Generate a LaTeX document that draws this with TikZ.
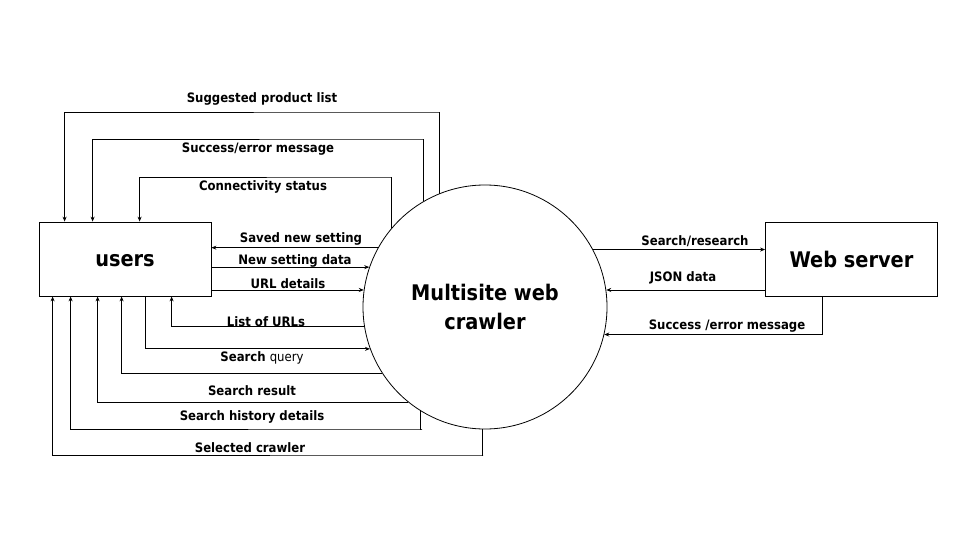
\documentclass[tikz,border=0pt]{standalone}
\usepackage{fontspec}
\setmainfont{DejaVu Sans Condensed}
\usetikzlibrary{arrows.meta}
\begin{document}
\begin{tikzpicture}[x=1pt,y=-1pt,
  >={Stealth[length=5pt,width=4pt]},
  flow/.style={draw=black,line width=0.8pt},
  entity/.style={draw=black,line width=0.8pt,rectangle,minimum width=172pt,minimum height=74pt,inner sep=0pt,font=\fontsize{21.5}{26}\selectfont\bfseries},
  proc/.style={draw=black,line width=0.8pt,circle,minimum size=244pt,inner sep=0pt,align=center,font=\fontsize{21.5}{29}\selectfont\bfseries},
  lbl/.style={inner sep=0pt,font=\fontsize{13}{15}\selectfont\bfseries}]
\useasboundingbox[fill=white] (0,0) rectangle (960,540);

\node[entity] (u) at (125,259) {\vphantom{W}users};
\node[entity] (w) at (851.5,259) {Web server};
\node[proc] (c) at (485,307) {Multisite web\\crawler};

% top loops
\coordinate (t1) at (439,112);
\coordinate (t2) at (423,139);
\coordinate (t3) at (391,177);
\draw[flow,->] (c.112.15) |- (t1) -| ([xshift=26pt]u.north west);
\draw[flow,->] (c.120.5) |- (t2) -| ([xshift=54pt]u.north west);
\draw[flow,->] (c.140.4) |- (t3) -| ([xshift=101pt]u.north west);
\node[lbl] (l1) at (262,99) {Suggested product list};
\node[lbl] (l2) at (258,149) {Success/error message};
\node[lbl] (l3) at (263,187) {Connectivity status};

% direct left flows
\draw[flow,->] (c.151.1) -- (u.east |- c.151.1);
\draw[flow,->] (u.east |- c.161.85) -- (c.161.85);
\draw[flow,->] (u.east |- c.172.7) -- (c.172.7);
\node[lbl] (l4) at (301,239) {Saved new setting};
\node[lbl] (l5) at (295,261) {New setting data};
\node[lbl] (l6) at (288,284) {URL details};

% bottom loops
\draw[flow,->] (c.189.4) -| ([xshift=133pt]u.south west);
\draw[flow,->] ([xshift=107pt]u.south west) |- (c.200.1);
\draw[flow,->] (c.213.9) -| ([xshift=83pt]u.south west);
\draw[flow,->] (c.231.2) -| ([xshift=59pt]u.south west);
\coordinate (b1) at (422,429);
\coordinate (b2) at (483,455);
\draw[flow,->] (c.238.9) |- (b1) -| ([xshift=32pt]u.south west);
\draw[flow,->] (c.269.1) |- (b2) -| ([xshift=14pt]u.south west);
\node[lbl] (l7) at (266,322) {List of URLs};
\node[lbl] (l8) at (262,358) {Search {\mdseries query}};
\node[lbl] (l9) at (252,391) {Search result};
\node[lbl] (l10) at (252,417) {Search history details};
\node[lbl] (l11) at (250,448) {Selected crawler};

% right flows
\draw[flow,->] (c.28.9) -- (w.west |- c.28.9);
\draw[flow,->] (w.west |- c.8.25) -- (c.8.25);
\draw[flow,->] ([xshift=57pt]w.south west) |- (c.347.2);
\node[lbl] (l12) at (695,241) {Search/research};
\node[lbl] (l13) at (683,278) {JSON data};
\node[lbl] (l14) at (727,326) {Success /error message};
\end{tikzpicture}
\end{document}
